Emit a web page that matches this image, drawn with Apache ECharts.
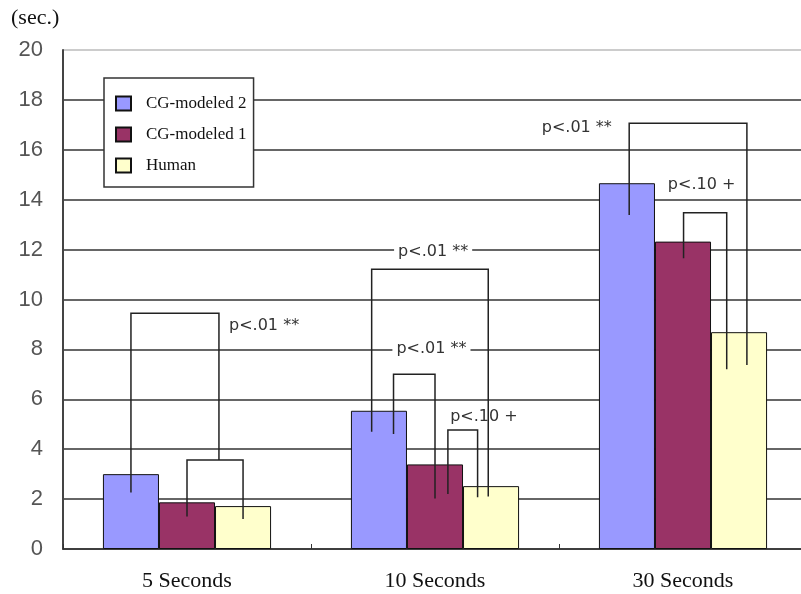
<!DOCTYPE html>
<html>
<head>
<meta charset="utf-8">
<script src="https://cdn.jsdelivr.net/npm/echarts@6/dist/echarts.min.js"></script>
<style>html,body{margin:0;padding:0;background:#fff}#c{width:801px;height:594px}</style>
</head>
<body>
<div id="c"></div>
<script>
const categories = ['5 Seconds', '10 Seconds', '30 Seconds'];
const seriesNames = ['CG-modeled 2', 'CG-modeled 1', 'Human'];
const cg2 = [3.0, 5.54, 14.66];
const cg1 = [1.87, 3.39, 12.32];
const human = [1.72, 2.52, 8.69];
// brackets: [categoryIndex, leftOffset(bars), leftBottom, rightOffset(bars), rightBottom, top]
const brackets = [
  [0, -1.0, 2.26, 0.57, 3.57, 9.45],
  [0, 0.0, 1.30, 1.0, 1.20, 3.57],
  [1, -1.13, 4.70, 0.95, 2.10, 11.21],
  [1, -0.74, 4.61, 0.0, 2.02, 7.00],
  [1, 0.23, 2.20, 0.76, 2.07, 4.77],
  [2, -0.96, 13.39, 1.14, 7.37, 17.06],
  [2, 0.01, 11.65, 0.78, 7.20, 13.48]
];
// annotations: [categoryIndex, leftOffset(bars), value, text, whiteBackground]
const annotations = [
  [0, 0.75, 8.94, 'p<.01 **', 0],
  [1, -0.73, 11.92, 'p<.01 **', 1],
  [1, -0.76, 8.04, 'p<.01 **', 1],
  [1, 0.27, 5.30, 'p<.10 +', 0],
  [2, -2.52, 16.86, 'p<.01 **', 0],
  [2, -0.27, 14.59, 'p<.10 +', 0]
];
const BAR_FRAC = 0.226;
const colors = ['#9999FF', '#993366', '#FFFFCC'];

const chart = echarts.init(document.getElementById('c'), null, {renderer: 'canvas'});
const splitColors = [];
for (let i = 0; i < 10; i++) splitColors.push('#333');
splitColors.push('#bbb');

function barSeries(name, data, color) {
  return {
    name: name, type: 'bar', data: data,
    barWidth: (BAR_FRAC * 100) + '%', barGap: '0%',
    itemStyle: {color: color, borderColor: '#111', borderWidth: 1},
    z: 2
  };
}

chart.setOption({
  animation: false,
  title: {text: '(sec.)', left: 6, top: 2,
    textStyle: {fontFamily: 'Liberation Serif', fontSize: 22, fontWeight: 'normal', color: '#111'}},
  grid: {left: 63, top: 50, width: 744, bottom: 45, containLabel: false, outerBoundsMode: 'none'},
  legend: {
    data: seriesNames, orient: 'vertical', left: 104, top: 78,
    icon: 'rect', itemWidth: 15, itemHeight: 14, itemGap: 14,
    padding: [17, 7, 13, 11],
    backgroundColor: '#fff', borderColor: '#333', borderWidth: 1.5,
    textStyle: {fontFamily: 'Liberation Serif', fontSize: 17, color: '#111', padding: [0, 0, 0, 10]}
  },
  xAxis: {
    type: 'category', data: categories,
    axisLine: {lineStyle: {color: '#333', width: 1.5}},
    axisTick: {show: true, inside: true, length: 5, lineStyle: {color: '#333'}},
    axisLabel: {fontFamily: 'Liberation Serif', fontSize: 22, color: '#111', margin: 21}
  },
  yAxis: {
    type: 'value', min: 0, max: 20, interval: 2,
    axisLine: {show: true, lineStyle: {color: '#444', width: 2}},
    axisTick: {show: false},
    axisLabel: {fontFamily: 'Liberation Sans', fontSize: 22, color: '#555', margin: 20},
    splitLine: {show: true, lineStyle: {color: splitColors, width: 1.5}}
  },
  series: [
    barSeries(seriesNames[0], cg2, colors[0]),
    barSeries(seriesNames[1], cg1, colors[1]),
    barSeries(seriesNames[2], human, colors[2]),
    {
      type: 'custom', name: 'brackets', data: brackets, z: 5,
      encode: {x: 0, y: 5}, silent: true,
      renderItem: function (params, api) {
        const c = api.value(0);
        const bandW = api.size([1, 0])[0];
        const barW = bandW * BAR_FRAC;
        const cx = api.coord([c, 0])[0];
        const x1 = cx + api.value(1) * barW;
        const x2 = cx + api.value(3) * barW;
        const y1 = api.coord([c, api.value(2)])[1];
        const y2 = api.coord([c, api.value(4)])[1];
        const yt = api.coord([c, api.value(5)])[1];
        return {
          type: 'polyline',
          shape: {points: [[x1, y1], [x1, yt], [x2, yt], [x2, y2]]},
          style: {stroke: '#222', lineWidth: 1.5, fill: null}
        };
      }
    },
    {
      type: 'custom', name: 'labels', data: annotations, z: 6,
      encode: {x: 0, y: 2}, silent: true,
      renderItem: function (params, api) {
        const a = annotations[params.dataIndex];
        const c = a[0];
        const bandW = api.size([1, 0])[0];
        const barW = bandW * BAR_FRAC;
        const cx = api.coord([c, 0])[0];
        const x = cx + a[1] * barW;
        const y = api.coord([c, a[2]])[1];
        const style = {
          text: a[3], x: x, y: y, align: 'left', verticalAlign: 'middle',
          fill: '#333', font: '16px "DejaVu Sans"'
        };
        if (a[4]) { style.backgroundColor = '#fff'; style.padding = [2, 4]; }
        return {type: 'text', style: style};
      }
    }
  ]
});
</script>
</body>
</html>
